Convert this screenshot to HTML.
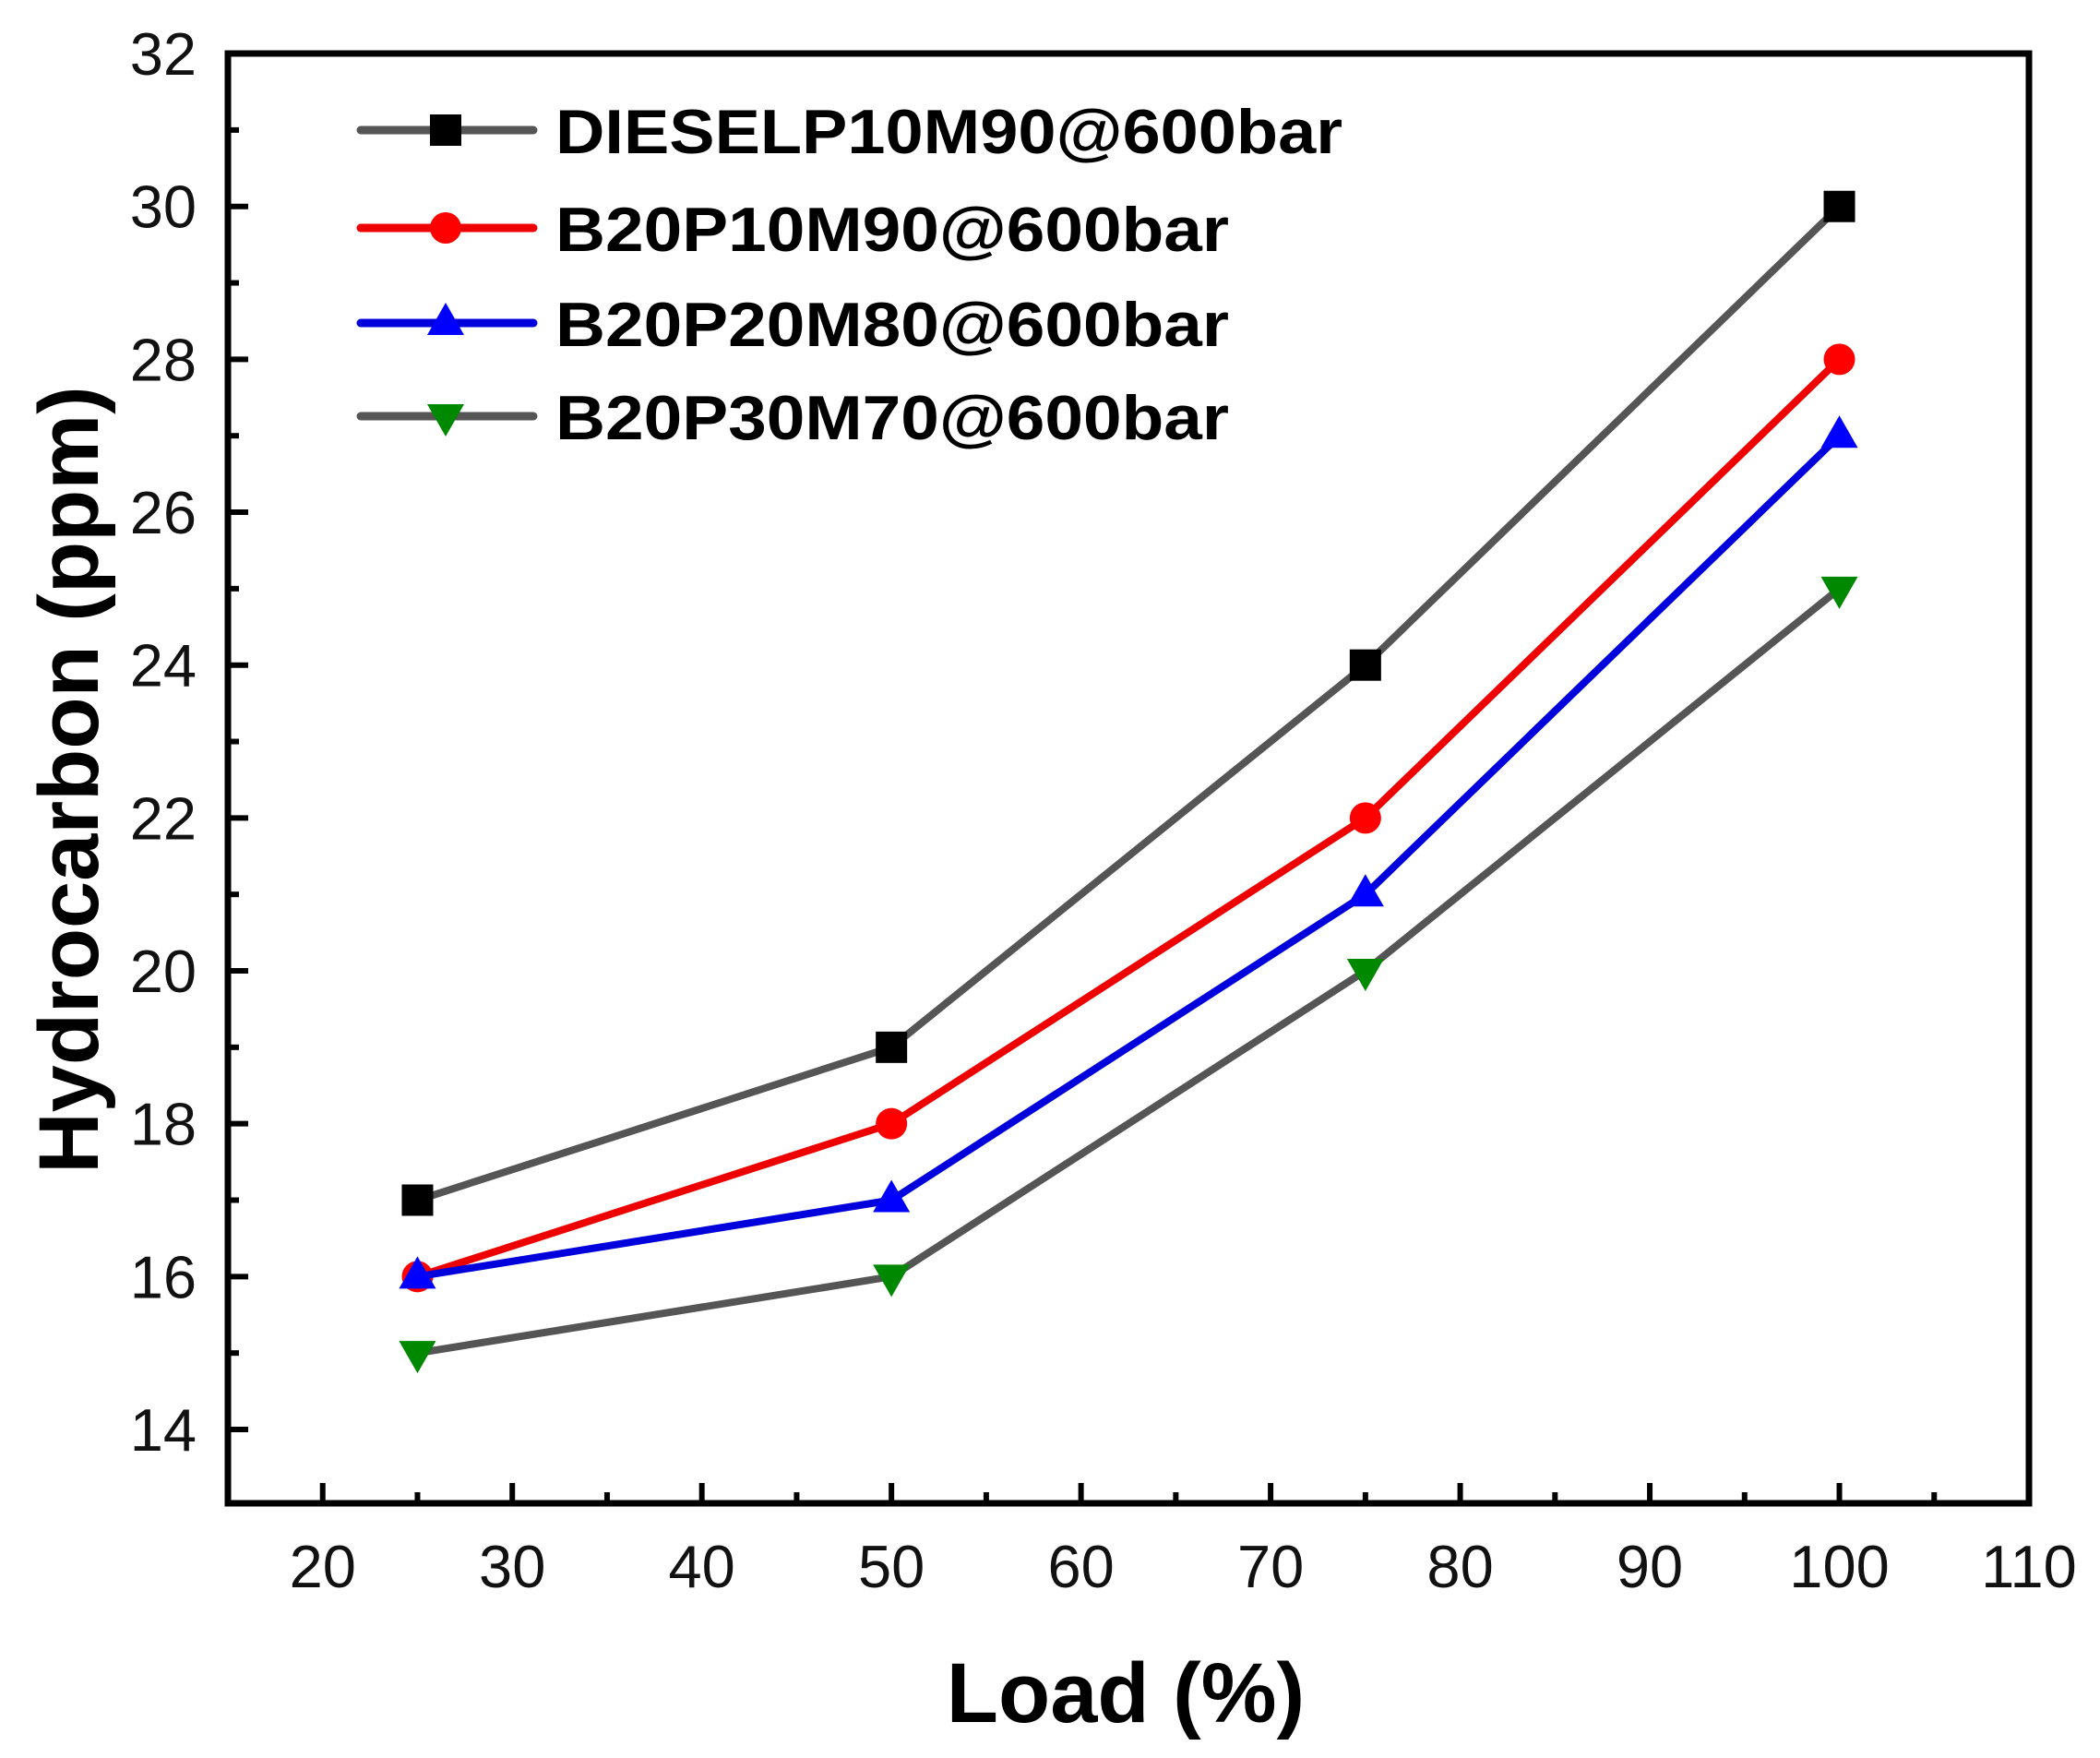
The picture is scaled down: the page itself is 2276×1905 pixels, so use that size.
<!DOCTYPE html>
<html><head><meta charset="utf-8"><style>body{margin:0;background:#fff}svg{display:block}</style></head>
<body>
<svg id="chart" width="2276" height="1905" xmlns="http://www.w3.org/2000/svg" font-family="Liberation Sans, Arial, sans-serif"></svg>
<script>
const loads = [25, 50, 75, 100];
const seriesNames = ["DIESELP10M90@600bar", "B20P10M90@600bar", "B20P20M80@600bar", "B20P30M70@600bar"];
const dieselVals = [17, 19, 24, 30];
const b20p10Vals = [16, 18, 22, 28];
const b20p20Vals = [16, 17, 21, 27];
const b20p30Vals = [15, 16, 20, 25];
const xTicks = [20, 30, 40, 50, 60, 70, 80, 90, 100, 110];
const yTicks = [14, 16, 18, 20, 22, 24, 26, 28, 30, 32];

const L = 247, R = 2199, T = 58, B = 1629;
const X0 = 15, X1 = 110;
const xs = v => L + (v - X0) / (X1 - X0) * (R - L);
const ys = v => 1549 - (v - 14) * 82.83;
const svg = document.getElementById('chart');
const NS = 'http://www.w3.org/2000/svg';
function mk(tag, attrs, parent) {
  const e = document.createElementNS(NS, tag);
  for (const k in attrs) e.setAttribute(k, attrs[k]);
  (parent || svg).appendChild(e);
  return e;
}
for (let v = 15; v <= 110; v += 5) {
  const major = v % 10 === 0;
  const t = mk('line', {x1: xs(v), x2: xs(v), y1: B, y2: B - (major ? 22 : 12), stroke: '#000', 'stroke-width': 6});
  
  
}
for (let v = 14; v <= 32; v += 1) {
  const major = v % 2 === 0;
  const t = mk('line', {x1: L, x2: L + (major ? 22 : 12), y1: ys(v), y2: ys(v), stroke: '#000', 'stroke-width': 6});
  
  
}
xTicks.forEach(v => {
  const t = mk('text', {x: xs(v), y: 1720, 'font-size': 65, 'text-anchor': 'middle', fill: '#111'});
  t.textContent = v;
  
  
});
yTicks.forEach(v => {
  const t = mk('text', {x: 213, y: ys(v) + 23, 'font-size': 65, 'text-anchor': 'end', fill: '#111'});
  t.textContent = v;
  
  
});
const frame = mk('rect', {x: L, y: T, width: R - L, height: B - T, fill: 'none', stroke: '#000', 'stroke-width': 7});



const styles = [
  {vals: dieselVals, line: '#555', fill: '#000', m: 'square', name: 'series-diesel'},
  {vals: b20p10Vals, line: '#e00', fill: '#f00', m: 'circle', name: 'series-b20p10m90'},
  {vals: b20p20Vals, line: '#00d', fill: '#00f', m: 'up', name: 'series-b20p20m80'},
  {vals: b20p30Vals, line: '#555', fill: '#080', m: 'down', name: 'series-b20p30m70'}
];
function marker(type, x, y, fill, g) {
  const s = 17;
  let e;
  if (type === 'square') e = mk('rect', {x: x - s, y: y - s, width: 2 * s, height: 2 * s, fill}, g);
  else if (type === 'circle') e = mk('circle', {cx: x, cy: y, r: s, fill}, g);
  else if (type === 'up') e = mk('polygon', {points: `${x},${y - 22} ${x - 20},${y + 13} ${x + 20},${y + 13}`, fill}, g);
  else e = mk('polygon', {points: `${x},${y + 22} ${x - 20},${y - 13} ${x + 20},${y - 13}`, fill}, g);
  
  
}
styles.forEach(st => {
  const g = mk('g', {});
  
  
  const p = mk('polyline', {points: loads.map((l, i) => xs(l) + ',' + ys(st.vals[i])).join(' '), fill: 'none', stroke: st.line, 'stroke-width': 8, 'stroke-linejoin': 'round'}, g);
  
  
  loads.forEach((l, i) => marker(st.m, xs(l), ys(st.vals[i]), st.fill, g));
});
const legendY = [141, 247, 350, 451];
const legendW = [853, 730, 730, 730];
const lg = mk('g', {});


styles.forEach((st, i) => {
  const y = legendY[i];
  const e = mk('g', {}, lg);
  
  
  mk('line', {x1: 391, x2: 578, y1: y, y2: y, stroke: st.line, 'stroke-width': 9, 'stroke-linecap': 'round'}, e);
  marker(st.m, 483, y, st.fill, e);
  const t = mk('text', {x: 602, y: y + 25, 'font-size': 68, 'font-weight': 'bold', fill: '#000', textLength: legendW[i], lengthAdjust: 'spacingAndGlyphs'}, e);
  t.textContent = seriesNames[i];
  
  
});
const xt = mk('text', {x: 1220, y: 1866, 'font-size': 92, 'font-weight': 'bold', 'text-anchor': 'middle'});
xt.textContent = 'Load (%)';


const yt = mk('text', {x: 0, y: 0, 'font-size': 92, 'font-weight': 'bold', 'text-anchor': 'middle', transform: 'translate(106,845) rotate(-90)'});
yt.textContent = 'Hydrocarbon (ppm)';


</script>
</body></html>
